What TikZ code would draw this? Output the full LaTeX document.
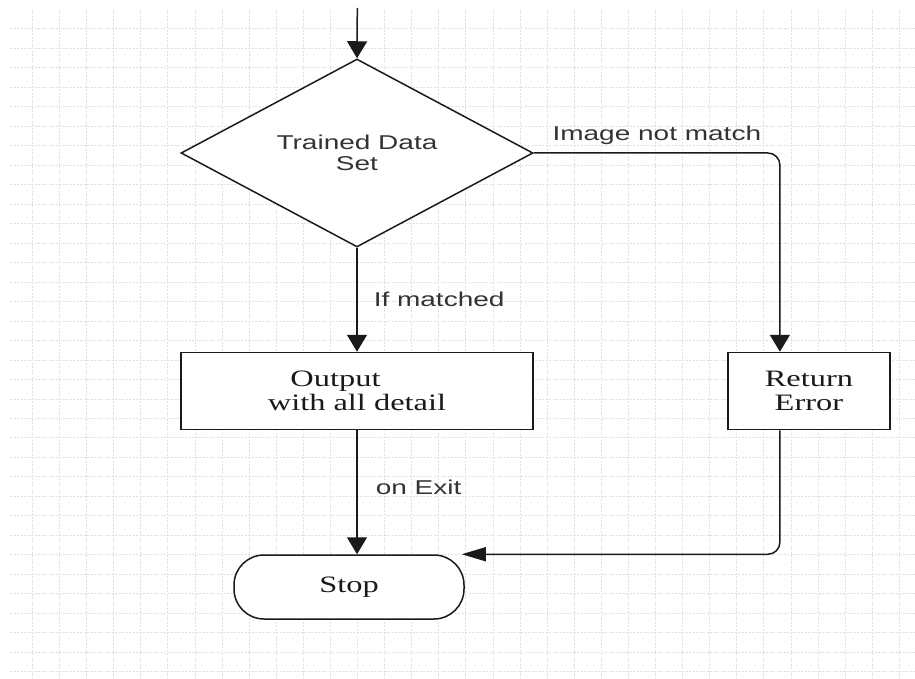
\documentclass[tikz,border=0pt]{standalone}
\usepackage{fontspec}
\setmainfont{Liberation Serif}
\newfontfamily\flowsans[FakeStretch=1.4]{Liberation Sans}
\newfontfamily\flowserif[FakeStretch=1.38]{Liberation Serif}
\usetikzlibrary{arrows.meta,positioning,shapes.geometric}
\definecolor{ink}{HTML}{1A1A1A}
\definecolor{labelgrey}{HTML}{333333}
\definecolor{gridgrey}{HTML}{E4DEE4}
\tikzset{
  decision/.style={
    diamond, draw=ink, line width=1.5pt, fill=white,
    aspect=1.87, minimum width=352pt, minimum height=188pt,
    inner sep=0pt, align=center, text=labelgrey,
    font=\flowsans\fontsize{20}{21}\selectfont
  },
  process/.style={
    rectangle, draw=ink, line width=1.5pt, fill=white,
    minimum width=#1, minimum height=77pt,
    inner sep=0pt, align=center, text=ink,
    font=\flowserif\fontsize{23.5}{23.5}\selectfont
  },
  process/.default=352pt,
  terminal/.style={
    rectangle, rounded corners=30pt, draw=ink, line width=1.5pt, fill=white,
    minimum width=230pt, minimum height=64pt,
    inner sep=0pt, text=ink,
    font=\flowserif\fontsize{23.5}{23.5}\selectfont
  },
  flowarrow/.style={
    -{Triangle[length=17pt, width=20pt]}, line width=1.5pt, draw=ink
  },
  flowarrowh/.style={
    -{Triangle[length=24pt, width=14pt]}, line width=1.5pt, draw=ink
  },
  labelnode/.style={
    font=\flowsans\fontsize{20}{21}\selectfont, text=labelgrey, inner sep=0pt
  },
  gridline/.style={
    draw=gridgrey, line width=1pt, dash pattern=on 2pt off 1.5pt
  },
}

\begin{document}
\begin{tikzpicture}[x=1pt, y=-1pt]
\useasboundingbox[fill=white] (0,0) rectangle (915,679);

% dotted paper grid
\foreach \i in {0,...,32}
  \draw[gridline] (32.5+27.09*\i, 9) -- ++(0,670);
\foreach \j in {0,...,33}
  \draw[gridline] (10, 29+19.476*\j) -- (915, 29+19.476*\j);

% nodes
\coordinate (entry) at (357.3, 8);
\node[decision] (dataset) at (357, 153) {Trained Data\\Set};
\node[process, below=104pt of dataset] (output) {Output\hspace*{43pt}\\with all detail};
\node[process=162pt, right=193.4pt of output] (error) {Return\\Error};
\node[terminal, below=124pt of output, xshift=-8pt] (stop) {Stop};

% connectors
\draw[flowarrow] (entry) -- (dataset.north);
\draw[flowarrow] (dataset.south) -- (output.north)
  node[labelnode, midway, right=16pt] {If matched};
\draw[flowarrow] (output.south) -- (output.south |- stop.north)
  node[labelnode, midway, right=18pt, yshift=5pt] {on Exit};
\draw[flowarrow, rounded corners=12pt] (dataset.east) -| ([xshift=-29pt]error.north)
  node[labelnode, pos=0.25, above=8pt] {Image not match};
\draw[flowarrowh, rounded corners=12pt] ([xshift=-29pt]error.south) |- ([xshift=-3pt]stop.north east);
\end{tikzpicture}
\end{document}
